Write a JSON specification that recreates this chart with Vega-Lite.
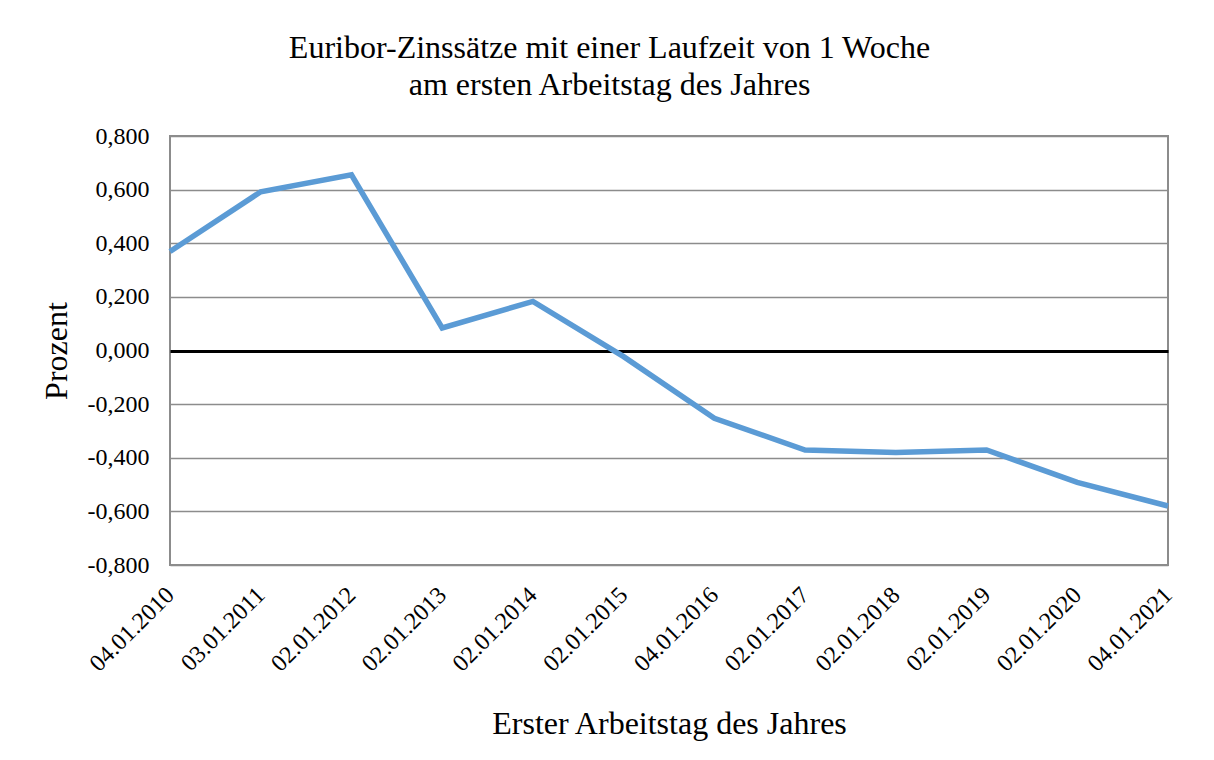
{
  "$schema": "https://vega.github.io/schema/vega-lite/v6.json",
  "autosize": {"type": "none"},
  "padding": {"left": 170, "top": 136, "right": 46, "bottom": 195},
  "width": 998,
  "height": 429,
  "background": "white",
  "title": {
    "text": ["Euribor-Zinssätze mit einer Laufzeit von 1 Woche", "am ersten Arbeitstag des Jahres"],
    "font": "Liberation Serif",
    "fontSize": 32,
    "fontWeight": "normal",
    "color": "black",
    "lineHeight": 37,
    "anchor": "middle",
    "frame": "bounds",
    "baseline": "bottom",
    "offset": -10
  },
  "data": {
    "values": [
      {"datum": "04.01.2010", "zins": 0.369},
      {"datum": "03.01.2011", "zins": 0.592},
      {"datum": "02.01.2012", "zins": 0.655},
      {"datum": "02.01.2013", "zins": 0.084},
      {"datum": "02.01.2014", "zins": 0.183},
      {"datum": "02.01.2015", "zins": -0.023},
      {"datum": "04.01.2016", "zins": -0.253},
      {"datum": "02.01.2017", "zins": -0.371},
      {"datum": "02.01.2018", "zins": -0.38},
      {"datum": "02.01.2019", "zins": -0.371},
      {"datum": "02.01.2020", "zins": -0.492},
      {"datum": "04.01.2021", "zins": -0.58}
    ]
  },
  "mark": {"type": "line", "color": "#5b9bd5", "strokeWidth": 5.5, "strokeJoin": "miter", "strokeCap": "butt"},
  "encoding": {
    "x": {
      "field": "datum",
      "type": "ordinal",
      "sort": null,
      "scale": {"type": "point", "padding": 0},
      "axis": {
        "title": "Erster Arbeitstag des Jahres",
        "labelAngle": -45,
        "labelAlign": "right",
        "labelBaseline": "middle",
        "labelPadding": 26,
        "ticks": false,
        "domain": false,
        "grid": false,
        "titlePadding": 33
      }
    },
    "y": {
      "field": "zins",
      "type": "quantitative",
      "scale": {"domain": [-0.8, 0.8], "nice": false, "zero": false},
      "axis": {
        "title": "Prozent",
        "values": [-0.8, -0.6, -0.4, -0.2, 0, 0.2, 0.4, 0.6, 0.8],
        "labelExpr": "replace(replace(format(datum.value, '.3f'), '.', ','), '\u2212', '-')",
        "ticks": false,
        "domain": false,
        "labelPadding": 21,
        "titlePadding": 14,
        "grid": true,
        "gridColor": {"condition": {"test": "datum.value === 0", "value": "black"}, "value": "#8c8c8c"},
        "gridWidth": {"condition": {"test": "datum.value === 0", "value": 3}, "value": 1.6},
        "gridOpacity": 1
      }
    }
  },
  "config": {
    "view": {"stroke": "#8c8c8c", "strokeWidth": 2},
    "axis": {
      "labelFont": "Liberation Serif",
      "labelFontSize": 24,
      "labelColor": "black",
      "titleFont": "Liberation Serif",
      "titleFontSize": 32,
      "titleFontWeight": "normal",
      "titleColor": "black",
      "labelOverlap": false,
      "labelBound": false
    }
  }
}
